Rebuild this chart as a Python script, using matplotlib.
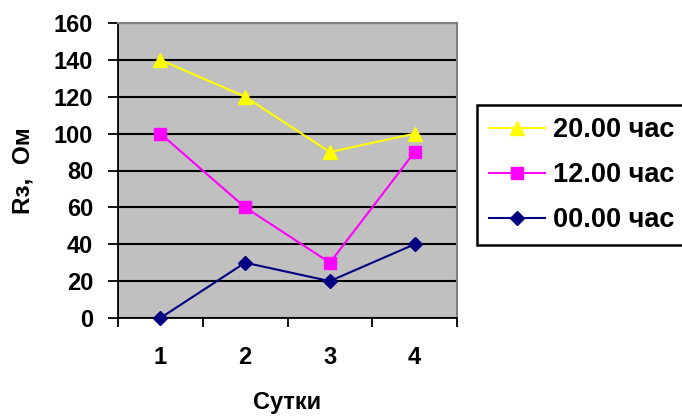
import matplotlib
matplotlib.use('Agg')
import matplotlib.pyplot as plt

days = [1, 2, 3, 4]
r_20h = [140, 120, 90, 100]
r_12h = [100, 60, 30, 90]
r_00h = [0, 30, 20, 40]
series_names = ["20.00 час", "12.00 час", "00.00 час"]

plt.rcParams['font.family'] = 'Liberation Sans'
plt.rcParams['font.weight'] = 'bold'
plt.rcParams['axes.labelweight'] = 'bold'

fig = plt.figure(figsize=(6.82, 4.16), dpi=100)
ax = fig.add_axes([118 / 682, 1 - 318 / 416, 339 / 682, 295 / 416])
ax.set_facecolor('#C0C0C0')

ax.set_xlim(0.5, 4.5)
ax.set_ylim(0, 160)
ax.set_yticks(range(0, 161, 20))
ax.yaxis.grid(True, color='black', linewidth=1.5)
ax.set_axisbelow(True)

ax.plot(days, r_20h, color='#FFFF00', marker='^', markersize=10, linewidth=1.5,
        label=series_names[0], clip_on=False, zorder=5)
ax.plot(days, r_12h, color='#FF00FF', marker='s', markersize=8, linewidth=1.5,
        label=series_names[1], clip_on=False, zorder=5)
ax.plot(days, r_00h, color='#000080', marker='D', markersize=7.5, linewidth=1.5,
        label=series_names[2], clip_on=False, zorder=5)

# category axis: tick marks between days, labels centred on days
ax.set_xticks([0.5, 1.5, 2.5, 3.5, 4.5])
ax.set_xticklabels([])
ax.set_xticks(days, minor=True)
ax.set_xticklabels([str(d) for d in days], minor=True, fontsize=17, fontweight='bold')
ax.tick_params(axis='x', which='major', direction='out', length=6.5, width=1.3, color='black')
ax.tick_params(axis='x', which='minor', length=0, pad=20)
ax.tick_params(axis='y', direction='out', length=7, width=1.3, pad=11, labelsize=17)
for lbl in ax.get_yticklabels():
    lbl.set_fontweight('bold')

ax.spines['left'].set_color('black')
ax.spines['bottom'].set_color('black')
ax.spines['left'].set_linewidth(1.3)
ax.spines['bottom'].set_linewidth(1.3)
ax.spines['top'].set_color('#808080')
ax.spines['right'].set_color('#808080')
ax.spines['top'].set_linewidth(1.5)
ax.spines['right'].set_linewidth(1.5)

ax.set_xlabel("Сутки", fontsize=17, fontweight='bold', labelpad=16)
ax.set_ylabel("Rз,  Ом", fontsize=17.5, fontweight='bold', labelpad=13.5)

leg = ax.legend(loc='upper left', bbox_to_anchor=(477 / 682, 1 - 105 / 416, 206 / 682, 0),
                bbox_transform=fig.transFigure, mode='expand', fancybox=False,
                edgecolor='black', framealpha=1, borderaxespad=0,
                prop={'family': 'Liberation Sans', 'size': 19.5, 'weight': 'bold'},
                handlelength=2.05, handleheight=0.7, labelspacing=0.7, borderpad=0.45,
                handletextpad=0.3)
leg.get_frame().set_linewidth(1.8)

fig.savefig('out.png', dpi=100)
